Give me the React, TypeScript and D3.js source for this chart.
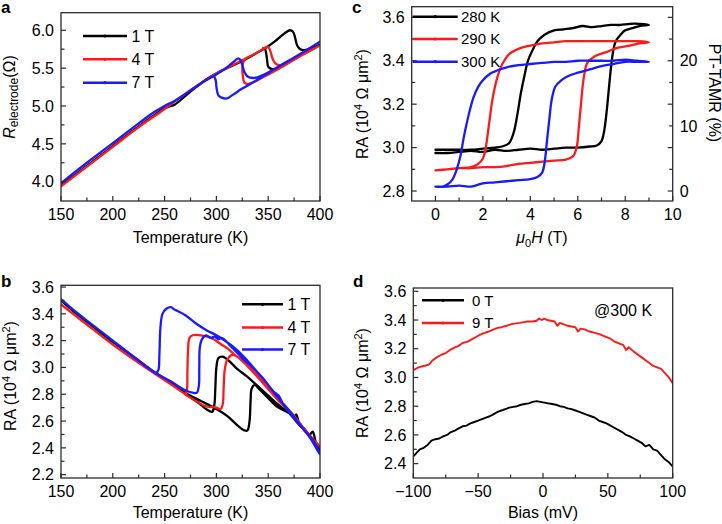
import React, { useRef, useEffect } from 'react';
import { select, scaleLinear, line, curveCatmullRom, curveLinear } from 'd3';

type Pt = [number, number];

const seriesColors = ['#000000', '#ff1a1a', '#1a1aff'];
const FONT = 'Liberation Sans, Arial, Helvetica, sans-serif';

// ---- panel a : R_electrode vs temperature ----
const fieldsA = ['1 T', '4 T', '7 T'];
const elecA1T: Pt[] = [
  [150, 3.95], [175, 4.21], [200, 4.47], [225, 4.73], [250, 4.97], [256, 5.0], [260, 5.02],
  [275, 5.19], [290, 5.35], [300, 5.43], [310, 5.5], [320, 5.56], [330, 5.63], [340, 5.71],
  [350, 5.79], [357, 5.86], [363, 5.93], [368, 5.98], [371, 6.0], [374, 5.98], [376, 5.9],
  [378, 5.8], [381, 5.75], [386, 5.74], [392, 5.77], [400, 5.81],
  [390, 5.73], [380, 5.66], [370, 5.58], [362, 5.52], [357, 5.49], [353, 5.49], [350, 5.52],
  [349, 5.6], [348, 5.7], [347, 5.75], [345, 5.76],
];
const elecA4T: Pt[] = [
  [150, 3.94], [175, 4.2], [200, 4.46], [225, 4.72], [250, 4.96], [275, 5.21], [285, 5.3],
  [300, 5.43], [310, 5.5], [320, 5.57], [330, 5.64], [340, 5.71], [346, 5.76], [349, 5.78],
  [351, 5.76], [353, 5.68], [355, 5.6], [358, 5.55], [362, 5.54], [370, 5.59], [380, 5.66],
  [390, 5.73], [400, 5.8],
  [380, 5.65], [360, 5.49], [345, 5.38], [335, 5.31], [330, 5.29], [327, 5.31], [325.5, 5.4],
  [325, 5.5], [326, 5.58], [328, 5.62],
];
const elecA7T: Pt[] = [
  [150, 3.98], [175, 4.25], [200, 4.51], [225, 4.77], [240, 4.92], [250, 5.0], [260, 5.07],
  [270, 5.16], [280, 5.25], [290, 5.34], [298, 5.4], [305, 5.46], [312, 5.53], [318, 5.6],
  [321, 5.63], [323, 5.61], [325, 5.54], [327, 5.45], [330, 5.39], [337, 5.37], [345, 5.41],
  [360, 5.52], [380, 5.68], [400, 5.85],
  [380, 5.68], [360, 5.52], [340, 5.35], [325, 5.23], [315, 5.14], [310, 5.1], [305, 5.11],
  [302, 5.14], [300, 5.25], [299.5, 5.33], [298, 5.39],
];

// ---- panel b : junction RA vs temperature ----
const fieldsB = ['1 T', '4 T', '7 T'];
const raB1T: Pt[] = [
  [150, 3.5], [165, 3.4], [180, 3.31], [200, 3.19], [220, 3.08], [241, 2.96], [255, 2.89],
  [270, 2.81], [285, 2.75], [300, 2.69], [310, 2.64], [320, 2.57], [327, 2.53], [330, 2.53],
  [332, 2.6], [333, 2.75], [334, 2.84], [337, 2.87], [340, 2.85], [350, 2.77], [360, 2.7],
  [370, 2.66], [375, 2.63], [377, 2.65], [380, 2.58], [385, 2.54], [390, 2.5], [393, 2.52],
  [396, 2.44], [400, 2.38],
  [390, 2.49], [380, 2.57], [370, 2.66], [360, 2.72], [350, 2.79], [340, 2.86], [330, 2.93],
  [320, 2.99], [312, 3.05], [306, 3.08], [302, 3.07], [300, 3.0], [299, 2.85], [298, 2.72],
  [296, 2.67], [290, 2.69], [282, 2.74], [270, 2.8],
];
const raB4T: Pt[] = [
  [150, 3.47], [165, 3.38], [180, 3.29], [200, 3.17], [220, 3.06], [241, 2.95], [255, 2.88],
  [270, 2.8], [280, 2.75], [290, 2.71], [300, 2.7], [304, 2.69], [306, 2.72], [307, 2.85],
  [308, 2.98], [310, 3.05], [314, 3.09], [318, 3.09],
  [330, 3.01], [343, 2.9], [359, 2.76], [375, 2.63], [388, 2.5], [400, 2.41],
  [388, 2.51], [375, 2.64], [359, 2.77], [343, 2.91], [330, 3.02], [320, 3.08], [311, 3.14],
  [305, 3.17], [295, 3.22], [285, 3.24], [277, 3.24], [274, 3.22], [272.5, 3.1],
  [272, 2.95], [271.5, 2.83], [270, 2.8],
];
const raB7T: Pt[] = [
  [150, 3.51], [165, 3.41], [180, 3.32], [200, 3.2], [220, 3.08], [241, 2.96], [255, 2.9],
  [270, 2.83], [278, 2.81], [281, 2.81], [283, 2.86], [283.5, 3.0], [284, 3.15], [286, 3.21],
  [290, 3.24], [295, 3.22], [298, 3.23], [302, 3.21], [305, 3.22], [315, 3.15], [325, 3.07],
  [335, 3.0], [345, 2.92], [355, 2.82], [360, 2.79], [365, 2.72], [375, 2.62], [385, 2.53],
  [392, 2.47], [396, 2.42], [400, 2.35],
  [390, 2.48], [380, 2.58], [370, 2.68], [360, 2.77], [350, 2.87], [340, 2.96], [330, 3.05],
  [320, 3.13], [310, 3.19], [300, 3.24], [290, 3.28], [280, 3.33], [270, 3.39], [260, 3.43],
  [256, 3.45], [252, 3.44], [248, 3.4], [246, 3.3], [245, 3.1], [244, 2.98], [242, 2.96],
  [241, 2.96],
];

// ---- panel c : RA vs field ----
const tempsC = ['280 K', '290 K', '300 K'];
const raC280: Pt[] = [
  [0, 2.975], [0.5, 2.975], [1, 2.98], [1.5, 2.985], [2, 2.98], [2.5, 2.99], [3, 2.985],
  [3.5, 2.99], [4, 2.995], [4.5, 2.99], [5, 2.995], [5.5, 3.0], [6, 3.0], [6.5, 3.005],
  [6.8, 3.01], [7.0, 3.03], [7.1, 3.07], [7.2, 3.15], [7.3, 3.26], [7.4, 3.37], [7.5, 3.45],
  [7.6, 3.49], [7.8, 3.52], [8.0, 3.54], [8.3, 3.55], [8.6, 3.56], [9, 3.565],
  [8.6, 3.57], [8.2, 3.57], [7.8, 3.565], [7.4, 3.565], [7, 3.56], [6.6, 3.555], [6.2, 3.56],
  [5.8, 3.55], [5.4, 3.545], [5, 3.54], [4.6, 3.52], [4.3, 3.49], [4.1, 3.45], [3.9, 3.4],
  [3.75, 3.33], [3.6, 3.25], [3.45, 3.15], [3.3, 3.07], [3.1, 3.02], [2.8, 3.005], [2.5, 3.0],
  [2, 2.995], [1.5, 2.99], [1, 2.99], [0.5, 2.99], [0, 2.99],
];
const raC290: Pt[] = [
  [0, 2.895], [0.5, 2.9], [1, 2.905], [1.5, 2.905], [2, 2.91], [2.5, 2.91], [3, 2.915],
  [3.5, 2.925], [4, 2.93], [4.5, 2.935], [5, 2.94], [5.5, 2.945], [5.8, 2.96], [5.95, 3.0],
  [6.05, 3.1], [6.15, 3.22], [6.25, 3.32], [6.4, 3.39], [6.7, 3.42], [7.2, 3.44], [7.7, 3.46],
  [8.2, 3.47], [8.6, 3.48], [9, 3.485],
  [8.5, 3.49], [8, 3.49], [7.5, 3.49], [7, 3.49], [6.5, 3.49], [6, 3.49], [5.5, 3.49],
  [5, 3.485], [4.5, 3.48], [4, 3.47], [3.5, 3.455], [3.1, 3.43], [2.8, 3.38], [2.6, 3.32],
  [2.4, 3.22], [2.25, 3.1], [2.12, 3.0], [2.0, 2.95], [1.8, 2.925], [1.5, 2.91], [1, 2.905],
  [0.5, 2.9], [0, 2.895],
];
const raC300: Pt[] = [
  [0, 2.82], [0.5, 2.82], [1, 2.825], [1.5, 2.82], [2, 2.835], [2.5, 2.84], [3, 2.845],
  [3.5, 2.85], [4, 2.855], [4.3, 2.865], [4.5, 2.885], [4.6, 2.93], [4.7, 3.03], [4.8, 3.13],
  [4.9, 3.22], [5.05, 3.28], [5.3, 3.31], [5.6, 3.33], [6, 3.345], [6.5, 3.36], [7, 3.375],
  [7.5, 3.385], [8, 3.395], [8.5, 3.395], [9, 3.395],
  [8.5, 3.4], [8, 3.405], [7.5, 3.4], [7, 3.4], [6.5, 3.4], [6, 3.4], [5.5, 3.395],
  [5, 3.395], [4.5, 3.39], [4, 3.385], [3.5, 3.38], [3, 3.37], [2.6, 3.355], [2.3, 3.34],
  [2, 3.31], [1.8, 3.28], [1.6, 3.23], [1.4, 3.15], [1.2, 3.05], [1.05, 2.96], [0.9, 2.9],
  [0.7, 2.85], [0.5, 2.83], [0.3, 2.82], [0, 2.82],
];

// ---- panel d : RA vs bias at 300 K ----
const fieldsD = ['0 T', '9 T'];
const biasD0T: Pt[] = [
  [-100, 2.45], [-98, 2.47], [-95, 2.5], [-92, 2.51], [-89, 2.53], [-86, 2.56], [-83, 2.57],
  [-80, 2.575], [-77, 2.59], [-74, 2.6], [-71, 2.62], [-68, 2.63], [-65, 2.645], [-62, 2.66],
  [-59, 2.665], [-56, 2.68], [-53, 2.69], [-50, 2.7], [-47, 2.71], [-44, 2.72], [-41, 2.73],
  [-38, 2.745], [-35, 2.76], [-32, 2.77], [-29, 2.78], [-26, 2.79], [-23, 2.795], [-20, 2.8],
  [-17, 2.81], [-14, 2.815], [-11, 2.82], [-8, 2.83], [-5, 2.835], [-2, 2.83], [1, 2.825],
  [4, 2.82], [7, 2.815], [10, 2.81], [13, 2.8], [16, 2.795], [19, 2.785], [22, 2.78],
  [25, 2.77], [28, 2.76], [31, 2.75], [34, 2.74], [37, 2.73], [40, 2.72], [43, 2.7],
  [46, 2.69], [49, 2.68], [52, 2.665], [55, 2.65], [58, 2.635], [61, 2.62], [64, 2.6],
  [67, 2.59], [70, 2.575], [73, 2.56], [76, 2.545], [79, 2.52], [82, 2.53], [85, 2.5],
  [88, 2.49], [91, 2.46], [94, 2.43], [97, 2.41], [100, 2.38],
];
const biasD9T: Pt[] = [
  [-100, 3.05], [-96, 3.07], [-92, 3.08], [-88, 3.09], [-85, 3.12], [-82, 3.14], [-78, 3.16],
  [-75, 3.17], [-72, 3.19], [-68, 3.21], [-65, 3.22], [-62, 3.24], [-58, 3.25], [-55, 3.265],
  [-52, 3.28], [-48, 3.3], [-45, 3.31], [-42, 3.32], [-38, 3.335], [-35, 3.345], [-32, 3.35],
  [-28, 3.36], [-25, 3.37], [-22, 3.375], [-18, 3.38], [-15, 3.385], [-12, 3.39], [-8, 3.39],
  [-5, 3.395], [-3, 3.41], [-1, 3.4], [1, 3.41], [3, 3.4], [6, 3.395], [9, 3.39], [11, 3.36],
  [13, 3.38], [16, 3.37], [19, 3.36], [22, 3.355], [25, 3.35], [27, 3.32], [29, 3.34],
  [32, 3.335], [36, 3.32], [40, 3.31], [44, 3.3], [48, 3.285], [52, 3.27], [55, 3.25],
  [58, 3.24], [62, 3.225], [64, 3.19], [66, 3.21], [70, 3.18], [73, 3.16], [76, 3.14],
  [79, 3.12], [82, 3.1], [85, 3.08], [88, 3.07], [91, 3.06], [94, 3.03], [97, 3.0], [100, 2.96],
];

interface Box { left: number; top: number; right: number; bottom: number }

interface PanelSpec {
  id: string;
  box: Box;
  xDomain: [number, number];
  yDomain: [number, number];
  xMajor: number[];
  xMinor: number[];
  yMajor: number[];
  yMinor: number[];
  xFmt: (v: number) => string;
  yFmt: (v: number) => string;
  series: Pt[][];
  smooth: boolean;
  width: number;
  rightTicks?: boolean;
}

const fmt1 = (v: number) => v.toFixed(1);
const fmtInt = (v: number) => (v < 0 ? '\u2212' + Math.abs(v) : String(v));

const App: React.FC = () => {
  const svgRef = useRef(null);

  useEffect(() => {
    const svg = select(svgRef.current);
    svg.selectAll('*').remove();

    const panels: PanelSpec[] = [
      {
        id: 'a', box: { left: 61, top: 12.7, right: 320, bottom: 201 },
        xDomain: [150, 400], yDomain: [3.745, 6.232],
        xMajor: [150, 200, 250, 300, 350, 400], xMinor: [175, 225, 275, 325, 375],
        yMajor: [4.0, 4.5, 5.0, 5.5, 6.0], yMinor: [4.25, 4.75, 5.25, 5.75],
        xFmt: String, yFmt: fmt1, series: [elecA1T, elecA4T, elecA7T], smooth: true, width: 2.3,
      },
      {
        id: 'b', box: { left: 61, top: 285.3, right: 320, bottom: 478 },
        xDomain: [150, 400], yDomain: [2.175, 3.613],
        xMajor: [150, 200, 250, 300, 350, 400], xMinor: [175, 225, 275, 325, 375],
        yMajor: [2.2, 2.4, 2.6, 2.8, 3.0, 3.2, 3.4, 3.6], yMinor: [2.3, 2.5, 2.7, 2.9, 3.1, 3.3, 3.5],
        xFmt: String, yFmt: fmt1, series: [raB1T, raB4T, raB7T], smooth: true, width: 2.3,
      },
      {
        id: 'c', box: { left: 411.7, top: 6.7, right: 672.7, bottom: 201 },
        xDomain: [-1, 10], yDomain: [2.754, 3.649],
        xMajor: [0, 2, 4, 6, 8, 10], xMinor: [1, 3, 5, 7, 9],
        yMajor: [2.8, 3.0, 3.2, 3.4, 3.6], yMinor: [2.9, 3.1, 3.3, 3.5],
        xFmt: String, yFmt: fmt1, series: [raC280, raC290, raC300], smooth: true, width: 2.3,
        rightTicks: true,
      },
      {
        id: 'd', box: { left: 413.3, top: 288, right: 672.7, bottom: 478 },
        xDomain: [-100, 100], yDomain: [2.3, 3.623],
        xMajor: [-100, -50, 0, 50, 100], xMinor: [-75, -25, 25, 75],
        yMajor: [2.4, 2.6, 2.8, 3.0, 3.2, 3.4, 3.6], yMinor: [2.5, 2.7, 2.9, 3.1, 3.3, 3.5],
        xFmt: fmtInt, yFmt: fmt1, series: [biasD0T, biasD9T], smooth: false, width: 1.9,
      },
    ];

    const defs = svg.append('defs');

    panels.forEach((p) => {
      const { box } = p;
      const x = scaleLinear().domain(p.xDomain).range([box.left, box.right]);
      const y = scaleLinear().domain(p.yDomain).range([box.bottom, box.top]);
      const g = svg.append('g');

      defs.append('clipPath').attr('id', 'clip-' + p.id)
        .append('rect')
        .attr('x', box.left).attr('y', box.top)
        .attr('width', box.right - box.left).attr('height', box.bottom - box.top);

      const path = line<Pt>()
        .x((d) => x(d[0]))
        .y((d) => y(d[1]))
        .curve(p.smooth ? curveCatmullRom.alpha(0.5) : curveLinear);

      g.append('g').attr('clip-path', `url(#clip-${p.id})`)
        .selectAll('path')
        .data(p.series)
        .join('path')
        .attr('d', (d) => path(d))
        .attr('fill', 'none')
        .attr('stroke', (_d, i) => seriesColors[i])
        .attr('stroke-width', p.width)
        .attr('stroke-linejoin', 'round')
        .attr('stroke-linecap', 'round');

      // frame
      g.append('rect')
        .attr('x', box.left).attr('y', box.top)
        .attr('width', box.right - box.left).attr('height', box.bottom - box.top)
        .attr('fill', 'none').attr('stroke', '#2b2b2b').attr('stroke-width', 1.3);

      const tickColor = '#2b2b2b';
      const xt = [...p.xMajor.map((v) => ({ v, len: 5 })), ...p.xMinor.map((v) => ({ v, len: 3.5 }))];
      g.selectAll('line.xt').data(xt).join('line')
        .attr('x1', (d) => x(d.v)).attr('x2', (d) => x(d.v))
        .attr('y1', box.bottom).attr('y2', (d) => box.bottom - d.len)
        .attr('stroke', tickColor).attr('stroke-width', 1.2);
      const yt = [...p.yMajor.map((v) => ({ v, len: 5 })), ...p.yMinor.map((v) => ({ v, len: 3.5 }))];
      g.selectAll('line.yt').data(yt).join('line')
        .attr('x1', box.left).attr('x2', (d) => box.left + d.len)
        .attr('y1', (d) => y(d.v)).attr('y2', (d) => y(d.v))
        .attr('stroke', tickColor).attr('stroke-width', 1.2);
      if (p.rightTicks) {
        g.selectAll('line.rt').data(yt).join('line')
          .attr('x1', box.right).attr('x2', (d) => box.right - d.len)
          .attr('y1', (d) => y(d.v)).attr('y2', (d) => y(d.v))
          .attr('stroke', tickColor).attr('stroke-width', 1.2);
      }

      g.selectAll('text.xl').data(p.xMajor).join('text')
        .attr('x', (d) => x(d)).attr('y', box.bottom + 19)
        .attr('text-anchor', 'middle')
        .attr('font-family', FONT).attr('font-size', 16)
        .text((d) => p.xFmt(d));
      g.selectAll('text.yl').data(p.yMajor).join('text')
        .attr('x', box.left - 7).attr('y', (d) => y(d) + 5.7)
        .attr('text-anchor', 'end')
        .attr('font-family', FONT).attr('font-size', 16)
        .text((d) => p.yFmt(d));

      if (p.id === 'c') {
        // PT-TAMR (%) is RA shifted: 0 % at 2.8, 10 % per 0.3
        const pct = [0, 10, 20];
        g.selectAll('text.rl').data(pct).join('text')
          .attr('x', box.right + 7).attr('y', (d) => y(2.8 + d * 0.03) + 5.7)
          .attr('font-family', FONT).attr('font-size', 16)
          .text((d) => String(d));
      }
    });

    // legends
    const legend = (x0: number, x1: number, ys: number[], labels: string[], tx: number, size: number) => {
      const lg = svg.append('g');
      labels.forEach((lab, i) => {
        lg.append('line')
          .attr('x1', x0).attr('x2', x1).attr('y1', ys[i]).attr('y2', ys[i])
          .attr('stroke', seriesColors[i]).attr('stroke-width', 2.4);
        lg.append('circle')
          .attr('cx', (x0 + x1) / 2).attr('cy', ys[i]).attr('r', 1.6)
          .attr('fill', seriesColors[i]);
        lg.append('text')
          .attr('x', tx).attr('y', ys[i] + size * 0.36)
          .attr('font-family', FONT).attr('font-size', size)
          .text(lab);
      });
    };
    legend(83, 127, [36, 59.3, 82.7], fieldsA, 131.5, 16);
    legend(242, 283, [304.3, 327.5, 349.5], fieldsB, 287.5, 16);
    legend(412.7, 457.7, [16.7, 39, 61.7], tempsC, 461, 15);
    legend(422, 464, [300.3, 323], fieldsD, 472, 15);

    svg.append('text')
      .attr('x', 594).attr('y', 315.5)
      .attr('font-family', FONT).attr('font-size', 16)
      .text('@300 K');

    // panel letters
    const letters: [string, number, number][] = [['a', 1, 12.5], ['c', 352, 12.5], ['b', 1, 287], ['d', 353, 287]];
    letters.forEach(([t, lx, ly]) => {
      svg.append('text').attr('x', lx).attr('y', ly)
        .attr('font-family', FONT).attr('font-size', 17).attr('font-weight', 'bold')
        .text(t);
    });

    // x titles
    const xTitle = (cx: number, by: number) =>
      svg.append('text').attr('x', cx).attr('y', by)
        .attr('text-anchor', 'middle')
        .attr('font-family', FONT).attr('font-size', 16);
    xTitle(190.5, 243).text('Temperature (K)');
    xTitle(190.5, 518).text('Temperature (K)');
    xTitle(543, 518).text('Bias (mV)');
    const mu = xTitle(542, 243);
    mu.append('tspan').attr('font-style', 'italic').text('\u03bc');
    mu.append('tspan').attr('dy', 4).attr('font-size', 11).text('0');
    mu.append('tspan').attr('dy', -4).attr('font-style', 'italic').text('H');
    mu.append('tspan').text(' (T)');

    // y titles
    const raTitle = (bx: number, cy: number) => {
      const t = svg.append('text')
        .attr('transform', `translate(${bx},${cy}) rotate(-90)`)
        .attr('text-anchor', 'middle')
        .attr('font-family', FONT).attr('font-size', 16);
      t.append('tspan').text('RA (10');
      t.append('tspan').attr('dy', -6).attr('font-size', 11).text('4');
      t.append('tspan').attr('dy', 6).text(' \u03a9 \u03bcm');
      t.append('tspan').attr('dy', -6).attr('font-size', 11).text('2');
      t.append('tspan').attr('dy', 6).text(')');
    };
    raTitle(16, 376);
    raTitle(368, 104);
    raTitle(368, 383);

    const rt = svg.append('text')
      .attr('transform', 'translate(15,97) rotate(-90)')
      .attr('text-anchor', 'middle')
      .attr('font-family', FONT).attr('font-size', 16);
    rt.append('tspan').attr('font-style', 'italic').text('R');
    rt.append('tspan').attr('dy', 3).attr('font-size', 12).text('electrode');
    rt.append('tspan').attr('dy', -3).text('(\u03a9)');

    svg.append('text')
      .attr('transform', 'translate(709,93) rotate(90)')
      .attr('text-anchor', 'middle')
      .attr('font-family', FONT).attr('font-size', 16)
      .text('PT-TAMR (%)');
  }, []);

  return (
    <svg
      ref={svgRef}
      width={722}
      height={524}
      style={{ position: 'absolute', left: 0, top: 0, background: '#ffffff' }}
    />
  );
};

export default App;
